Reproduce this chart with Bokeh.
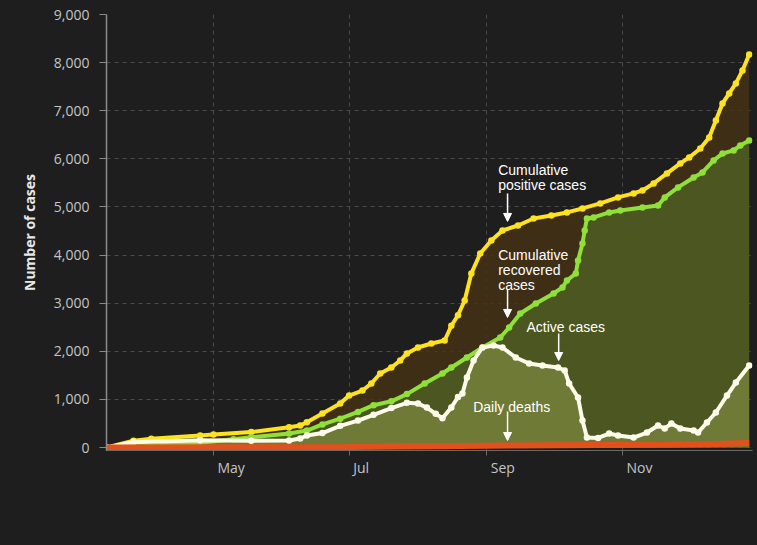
import pandas as pd
from jinja2 import Template
from bokeh.plotting import figure
from bokeh.models import (Label, Arrow, NormalHead, NumeralTickFormatter, Range1d, FixedTicker,
                          LinearAxis)
from bokeh.embed import file_html
from bokeh.resources import INLINE

# ---------------- data ----------------
pos_dates = ["2020-03-14", "2020-03-26", "2020-04-03", "2020-04-25", "2020-05-01", "2020-05-18",
             "2020-06-04", "2020-06-09", "2020-06-12", "2020-06-19", "2020-06-27", "2020-07-01",
             "2020-07-07", "2020-07-11", "2020-07-15", "2020-07-20", "2020-07-24", "2020-07-27",
             "2020-08-01", "2020-08-07", "2020-08-13", "2020-08-16", "2020-08-19", "2020-08-22",
             "2020-08-25", "2020-08-29", "2020-09-03", "2020-09-08", "2020-09-15", "2020-09-22",
             "2020-09-30", "2020-10-07", "2020-10-14", "2020-10-22", "2020-10-30", "2020-11-06",
             "2020-11-10", "2020-11-15", "2020-11-21", "2020-11-27", "2020-12-01", "2020-12-06",
             "2020-12-10", "2020-12-13", "2020-12-16", "2020-12-19", "2020-12-22", "2020-12-25",
             "2020-12-28"]
pos_vals = [0, 140, 180, 250, 270, 320,
            422, 457, 526, 706, 915, 1081,
            1185, 1330, 1538, 1663, 1809, 1954,
            2079, 2162, 2225, 2530, 2750, 3056,
            3617, 4033, 4304, 4511, 4615, 4761,
            4823, 4886, 4969, 5073, 5198, 5281,
            5343, 5489, 5697, 5904, 6029, 6216,
            6445, 6798, 7152, 7360, 7568, 7838,
            8170]

rec_dates = ["2020-03-14", "2020-03-26", "2020-04-10", "2020-04-25", "2020-05-10", "2020-05-18",
             "2020-06-04", "2020-06-12", "2020-06-19", "2020-06-27", "2020-07-05", "2020-07-12",
             "2020-07-20", "2020-07-27", "2020-08-04", "2020-08-12", "2020-08-16", "2020-08-23",
             "2020-08-30", "2020-09-07", "2020-09-11", "2020-09-16", "2020-09-23", "2020-10-01",
             "2020-10-05", "2020-10-07", "2020-10-11", "2020-10-12", "2020-10-14", "2020-10-15",
             "2020-10-16", "2020-10-19", "2020-10-26", "2020-10-31", "2020-11-10", "2020-11-17",
             "2020-11-20", "2020-11-26", "2020-12-03", "2020-12-07", "2020-12-12", "2020-12-16",
             "2020-12-21", "2020-12-24", "2020-12-28"]
rec_vals = [0, 15, 60, 100, 170, 214,
            291, 353, 480, 600, 740, 880,
            960, 1110, 1330, 1538, 1663, 1871,
            2079, 2287, 2495, 2786, 2994, 3202,
            3327, 3472, 3617, 3888, 4241, 4511,
            4761, 4782, 4886, 4927, 4990, 5031,
            5198, 5406, 5613, 5717, 5967, 6112,
            6175, 6279, 6383]

act_dates = ["2020-03-14", "2020-03-26", "2020-04-25", "2020-05-18", "2020-06-04", "2020-06-09",
             "2020-06-12", "2020-06-19", "2020-06-27", "2020-07-05", "2020-07-12", "2020-07-20",
             "2020-07-27", "2020-08-01", "2020-08-05", "2020-08-09", "2020-08-12", "2020-08-16",
             "2020-08-19", "2020-08-21", "2020-08-23", "2020-08-26", "2020-08-30", "2020-09-04",
             "2020-09-08", "2020-09-14", "2020-09-20", "2020-09-26", "2020-10-03", "2020-10-06",
             "2020-10-08", "2020-10-12", "2020-10-14", "2020-10-16", "2020-10-21", "2020-10-26",
             "2020-10-30", "2020-11-06", "2020-11-12", "2020-11-17", "2020-11-20", "2020-11-23",
             "2020-11-27", "2020-12-03", "2020-12-05", "2020-12-09", "2020-12-13", "2020-12-18",
             "2020-12-22", "2020-12-28"]
act_vals = [0, 110, 150, 140, 145, 187,
            250, 300, 450, 560, 680, 820,
            930, 915, 830, 700, 610, 832,
            1050, 1123, 1455, 1809, 2079, 2121,
            2079, 1871, 1746, 1705, 1663, 1601,
            1330, 1040, 561, 208, 200, 290,
            250, 208, 312, 457, 395, 499,
            395, 353, 312, 520, 728, 1081,
            1351, 1705]

death_dates = ["2020-03-14", "2020-05-01", "2020-07-01", "2020-08-20", "2020-09-15",
               "2020-10-20", "2020-11-20", "2020-12-10", "2020-12-28"]
death_vals = [0, 5, 12, 30, 42, 50, 58, 70, 95]

y_ticks = [0, 1000, 2000, 3000, 4000, 5000, 6000, 7000, 8000, 9000]
month_ticks = ["2020-05-01", "2020-07-01", "2020-09-01", "2020-11-01"]
month_labels = ["May", "Jul", "Sep", "Nov"]

# annotations: text lines (text, x, baseline y) and arrows (x, y_start, y_end)
ann_lines = [("Cumulative", "2020-09-06 02:00", 5759),
             ("positive cases", "2020-09-06 02:00", 5447),
             ("Cumulative", "2020-09-06 02:00", 4002),
             ("recovered", "2020-09-06 02:00", 3690),
             ("cases", "2020-09-06 02:00", 3378),
             ("Active cases", "2020-09-18 19:00", 2495),
             ("Daily deaths", "2020-08-25 20:00", 852)]
ann_arrows = [("2020-09-10 07:00", 5281, 4699),
              ("2020-09-10 07:00", 3285, 2703),
              ("2020-10-03 07:00", 2370, 1809),
              ("2020-09-10 07:00", 748, 146)]


def ms(s):
    return pd.Timestamp(s).timestamp() * 1000.0


pos_x = pd.to_datetime(pos_dates)
rec_x = pd.to_datetime(rec_dates)
act_x = pd.to_datetime(act_dates)
death_x = pd.to_datetime(death_dates)

BG = "#1e1e1e"
X0, X1 = ms("2020-03-13 20:40"), ms("2020-12-29 11:45")
FRAME_W = 756 - 106 - 4

p = figure(width=756, height=544, output_backend="svg", toolbar_location=None,
           x_axis_type="datetime",
           x_range=Range1d(X0, X1),
           y_range=Range1d(-62, 9000),
           background_fill_color=BG, border_fill_color=BG, outline_line_color=None,
           min_border_left=106, min_border_right=4, min_border_top=14, min_border_bottom=94)

# filled areas
p.varea(x=pos_x, y1=0, y2=pos_vals, fill_color="#453115", fill_alpha=0.85)
p.varea(x=rec_x, y1=0, y2=rec_vals, fill_color="#4e5d22", fill_alpha=0.85)
p.varea(x=act_x, y1=0, y2=act_vals, fill_color="#75803b", fill_alpha=0.85)

# lines with dots
p.line(pos_x, pos_vals, line_color="#ffe21f", line_width=4)
p.scatter(pos_x, pos_vals, size=6.5, fill_color="#ffe21f", line_color=None)
p.line(rec_x, rec_vals, line_color="#8ee03a", line_width=4)
p.scatter(rec_x, rec_vals, size=6.5, fill_color="#8ee03a", line_color=None)
p.line(act_x, act_vals, line_color="#fffbea", line_width=4)
p.scatter(act_x, act_vals, size=6.5, fill_color="#fffbea", line_color=None)
p.line(death_x, death_vals, line_color="#e2511b", line_width=6)

# y axis
p.yaxis.ticker = FixedTicker(ticks=y_ticks)
p.yaxis.formatter = NumeralTickFormatter(format="0,0")
p.yaxis.axis_label = "Number of cases"
p.yaxis.axis_label_text_font = "Open Sans"
p.yaxis.axis_label_text_font_style = "bold"
p.yaxis.axis_label_text_font_size = "14px"
p.yaxis.axis_label_text_color = "#e8e8e8"
p.yaxis.axis_label_standoff = 12
p.yaxis.major_label_text_font = "Open Sans"
p.yaxis.major_label_text_font_size = "14px"
p.yaxis.major_label_text_color = "#c4c4c4"
p.yaxis.major_label_standoff = 10
p.yaxis.axis_line_color = "#8a8a8a"
p.yaxis.axis_line_width = 1.5
p.yaxis.major_tick_line_color = "#8a8a8a"
p.yaxis.major_tick_out = 7
p.yaxis.major_tick_in = 0
p.yaxis.minor_tick_line_color = None

# x axis: tick marks at the month starts (labels hidden on this axis)
month_ms = [ms(d) for d in month_ticks]
p.xaxis.ticker = FixedTicker(ticks=month_ms)
p.xaxis.major_label_text_font_size = "0px"
p.xaxis.major_label_text_alpha = 0
p.xaxis.major_label_standoff = 0
p.xaxis.axis_line_color = "#6a6a6a"
p.xaxis.major_tick_line_color = "#6a6a6a"
p.xaxis.major_tick_out = 5
p.xaxis.major_tick_in = 0
p.xaxis.minor_tick_line_color = None
p.xgrid.ticker = FixedTicker(ticks=month_ms)

# second axis carrying the month names, each label starting just right of its tick
EM = {'M': 0.889, 'a': 0.556, 'y': 0.5, 'J': 0.27, 'u': 0.613, 'l': 0.258, 'S': 0.531,
      'e': 0.561, 'p': 0.613, 'N': 0.752, 'o': 0.6, 'v': 0.5}
ms_per_px = (X1 - X0) / FRAME_W
label_pos = []
for xm, lab in zip(month_ms, month_labels):
    w = 14 * sum(EM.get(c, 0.55) for c in lab)
    label_pos.append(float(round(xm + (4 + w / 2) * ms_per_px)))
lab_axis = LinearAxis(ticker=FixedTicker(ticks=label_pos),
                      major_label_overrides={k: v for k, v in zip(label_pos, month_labels)},
                      axis_line_color=None, major_tick_line_color=None,
                      minor_tick_line_color=None, major_tick_out=0, major_tick_in=0,
                      major_label_standoff=2,
                      major_label_text_font="Open Sans", major_label_text_font_size="14px",
                      major_label_text_color="#c4c4c4")
p.add_layout(lab_axis, "below")

# grid
p.ygrid.ticker = FixedTicker(ticks=y_ticks)
for g in (p.xgrid, p.ygrid):
    g.grid_line_color = "#4a4a4a"
    g.grid_line_dash = "4 4"
    g.grid_line_width = 1

# annotations
for txt, xs, yv in ann_lines:
    p.add_layout(Label(x=ms(xs), y=yv, text=txt, text_color="white",
                       text_font="Liberation Sans", text_font_size="14px",
                       text_baseline="alphabetic", text_align="left"))
for xs, y0, y1 in ann_arrows:
    p.add_layout(Arrow(x_start=ms(xs), y_start=y0, x_end=ms(xs), y_end=y1,
                       line_color="white", line_width=1.5,
                       end=NormalHead(size=8, fill_color="white", line_color="white")))

tmpl = Template("""<!DOCTYPE html>
<html lang="en">
<head>
<meta charset="utf-8">
<title>{{ title }}</title>
{{ bokeh_js }}
{{ bokeh_css }}
<style>html, body { background: #1e1e1e; margin: 0; padding: 0; overflow: hidden; }</style>
</head>
<body>
{{ plot_div }}
{{ plot_script }}
</body>
</html>""")

open("out.html", "w").write(file_html(p, INLINE, template=tmpl))
